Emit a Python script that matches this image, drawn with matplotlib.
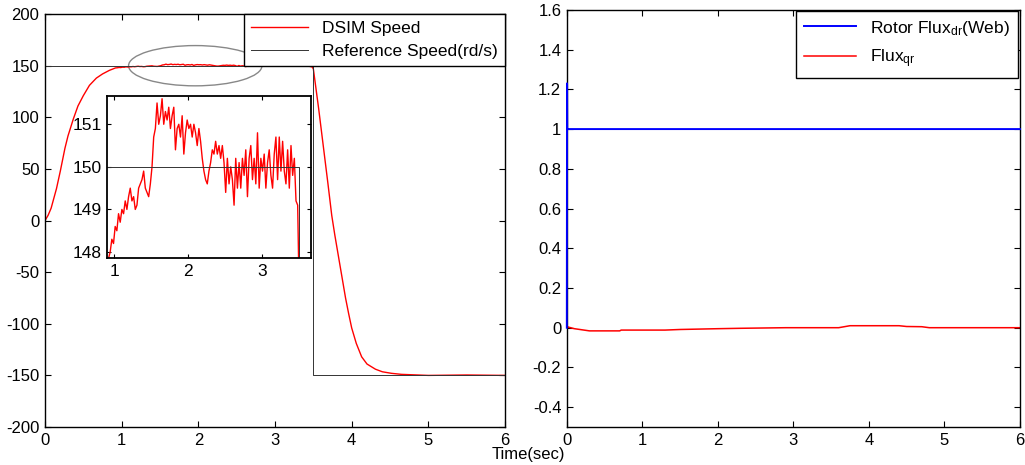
import numpy as np
import matplotlib
matplotlib.use("Agg")
import matplotlib.pyplot as plt
from matplotlib.patches import Ellipse
from matplotlib.ticker import FormatStrFormatter

plt.rcParams["font.family"] = ["Liberation Sans", "DejaVu Sans"]
plt.rcParams["axes.unicode_minus"] = False
plt.rcParams["mathtext.fontset"] = "custom"
plt.rcParams["mathtext.rm"] = "Liberation Sans"
plt.rcParams["mathtext.it"] = "Liberation Sans"

# speed response (rd/s)
rise_t = [0, 0.04, 0.08, 0.15, 0.2, 0.26, 0.3, 0.37, 0.43, 0.5, 0.58, 0.67, 0.75, 0.84]
rise_v = [0, 5, 12, 31, 48, 70, 82, 98.5, 111, 121, 131, 138, 142, 145.5]

# plateau, sampled evenly between 0.92 s and 3.48 s
plateau_v = [147.85, 148.0, 148.3, 148.2, 148.6, 148.5, 148.9, 148.7, 149.0, 148.9,
             149.2, 149.0, 149.3, 149.5, 149.2, 149.3, 149.0, 149.1, 149.5, 149.6,
             149.7, 149.9, 149.5, 149.4, 149.3, 149.6, 150.0, 150.7, 150.9, 151.5,
             151.0, 151.2, 151.6, 151.0, 151.3, 151.1, 151.4, 150.9, 151.2, 151.4,
             150.4, 150.9, 151.0, 150.7, 151.2, 150.3, 150.8, 151.1, 150.9, 151.0,
             150.7, 151.0, 150.8, 150.5, 150.9, 150.6, 150.2, 149.9, 149.7, 149.6,
             149.9, 150.1, 150.4, 150.3, 150.6, 150.3, 150.5, 150.2, 150.5, 150.1,
             149.4, 150.2, 149.6, 150.0, 149.7, 149.1, 150.2, 149.5, 150.1, 149.5,
             150.2, 149.8, 150.4, 149.3, 150.2, 150.5, 149.7, 150.2, 149.6, 150.8,
             149.5, 150.2, 149.9, 150.3, 149.5, 150.1, 150.4, 149.8, 149.5, 150.3,
             150.7, 149.7, 150.7, 149.9, 150.6, 149.9, 149.6, 150.4, 149.5, 150.5,
             149.8, 150.2, 149.2, 149.1]

fall_t = [3.5, 3.53, 3.57, 3.64, 3.69, 3.74, 3.78, 3.83, 3.87, 3.92, 3.96, 4.0, 4.06,
          4.13, 4.2, 4.31, 4.4, 4.52, 4.65, 5.0, 5.5, 6.0]
fall_v = [147, 130, 108, 66, 36, 5, -14, -36, -54, -75, -90, -104, -119,
          -132, -139, -144, -146.5, -148, -149, -150, -149.6, -150]

ref_t = [0, 3.5, 3.5, 6]
ref_v = [150, 150, -150, -150]

# rotor flux (Web)
flux_dr_t = [0, 0.003, 0.006, 0.02, 6]
flux_dr_v = [0, 1.23, 1.0, 1.0, 1.0]
flux_qr_t = [0, 0.1, 0.3, 0.7, 0.72, 1.3, 1.5, 2.0, 2.3, 2.9, 3.6, 3.75, 4.4, 4.5, 4.7, 4.8, 6.0]
flux_qr_v = [0.005, -0.005, -0.016, -0.016, -0.012, -0.012, -0.009, -0.005, -0.003, 0.0,
             0.0, 0.01, 0.01, 0.006, 0.005, 0.0, 0.0]

speed_t = np.concatenate([rise_t, np.linspace(0.92, 3.48, len(plateau_v)), fall_t])
speed_v = np.concatenate([rise_v, plateau_v, fall_v])


def style_axes(ax, size=12):
    ax.tick_params(direction="in", top=True, right=True, length=4, labelsize=size,
                   width=0.8, pad=4)
    for s in ax.spines.values():
        s.set_linewidth(1.0)
    ax.xaxis.set_major_formatter(FormatStrFormatter("%g"))
    ax.yaxis.set_major_formatter(FormatStrFormatter("%g"))


fig = plt.figure(figsize=(10.25, 4.65), dpi=100)

# left: speed
ax1 = fig.add_axes([0.0439, 0.0817, 0.4488, 0.888])
ax1.plot(speed_t, speed_v, color="red", lw=1.0, label="DSIM Speed")
ax1.plot(ref_t, ref_v, color="#333333", lw=0.7, label="Reference Speed(rd/s)")
ax1.set_xlim(0, 6)
ax1.set_ylim(-200, 200)
ax1.set_xticks(range(0, 7))
ax1.set_yticks(range(-200, 201, 50))
style_axes(ax1)
ax1.add_patch(Ellipse((1.96, 150), 1.74, 39, fill=False, edgecolor="#888888", lw=1.0))
leg1 = ax1.legend(loc="upper right", bbox_to_anchor=(1, 1), borderaxespad=0,
                  fontsize=12.5, handlelength=3.3, fancybox=False, framealpha=1,
                  edgecolor="black", borderpad=0.4, labelspacing=0.45)
leg1.get_frame().set_linewidth(1.0)

# zoom inset
axi = fig.add_axes([0.1044, 0.4452, 0.199, 0.348])
axi.plot(speed_t, speed_v, color="red", lw=1.0)
axi.plot(ref_t, ref_v, color="#333333", lw=0.7)
axi.set_xlim(0.9, 3.66)
axi.set_ylim(147.86, 151.66)
axi.set_xticks([1, 2, 3])
axi.set_yticks([148, 149, 150, 151])
style_axes(axi, size=12.5)
axi.tick_params(length=3)
for s in axi.spines.values():
    s.set_linewidth(1.3)

# right: rotor flux
ax2 = fig.add_axes([0.553, 0.0817, 0.442, 0.897])
ax2.plot(flux_dr_t, flux_dr_v, color="blue", lw=1.4, label="Rotor Flux$_{dr}$(Web)",
         clip_on=False, zorder=3)
ax2.plot(flux_qr_t, flux_qr_v, color="red", lw=1.1, label="Flux$_{qr}$")
ax2.set_xlim(0, 6)
ax2.set_ylim(-0.5, 1.6)
ax2.set_xticks(range(0, 7))
ax2.set_yticks(np.arange(-0.4, 1.61, 0.2))
style_axes(ax2)
leg2 = ax2.legend(loc="upper right", bbox_to_anchor=(0.995, 0.998), borderaxespad=0,
                  fontsize=12.5, handlelength=3.0, fancybox=False, framealpha=1,
                  edgecolor="black", borderpad=0.45, labelspacing=0.55)
leg2.get_frame().set_linewidth(1.0)

fig.text(0.515, 0.022, "Time(sec)", fontsize=12, ha="center", va="center")

fig.savefig("out.png", dpi=100)
